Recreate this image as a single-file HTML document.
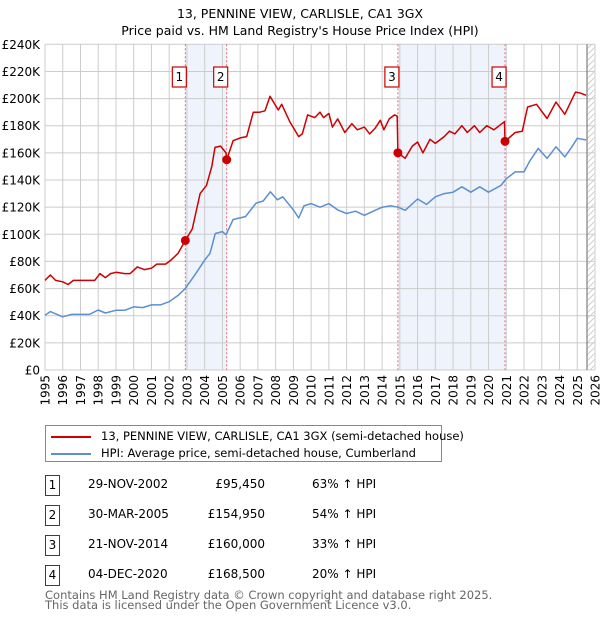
<!DOCTYPE html>
<html><head><meta charset="utf-8"><style>
body{margin:0;background:#fff;font-family:"DejaVu Sans","Liberation Sans",sans-serif;}
#wrap{position:relative;width:600px;height:620px;overflow:hidden}
.row{position:absolute;font-size:12px;color:#000}
.box{position:absolute;border:1.3px solid #c00;width:13px;height:19px;text-align:center;font-size:12px;line-height:18px}
</style></head><body><div id="wrap">
<svg id="chart" width="600" height="420" style="position:absolute;left:0;top:0"></svg>
<div style="position:absolute;left:45px;top:425px;width:395px;height:35px;border:1px solid #888;font-size:11.5px">
 <div style="position:absolute;left:5px;top:3px;white-space:nowrap"><span style="display:inline-block;width:40px;height:2px;background:#cc0000;vertical-align:middle;margin-right:10px"></span>13, PENNINE VIEW, CARLISLE, CA1 3GX (semi-detached house)</div>
 <div style="position:absolute;left:5px;top:20px;white-space:nowrap"><span style="display:inline-block;width:40px;height:2px;background:#5b8fd0;vertical-align:middle;margin-right:10px"></span>HPI: Average price, semi-detached house, Cumberland</div>
</div>
<div id="table"></div>
<div style="position:absolute;left:45px;top:590px;font-size:11.5px;color:#666;line-height:10px">Contains HM Land Registry data © Crown copyright and database right 2025.<br>This data is licensed under the Open Government Licence v3.0.</div>
</div>
<script>
const yTicks=[0,20,40,60,80,100,120,140,160,180,200,220,240];
const xYears=[1995,1996,1997,1998,1999,2000,2001,2002,2003,2004,2005,2006,2007,2008,2009,2010,2011,2012,2013,2014,2015,2016,2017,2018,2019,2020,2021,2022,2023,2024,2025,2026];
const saleDates=[2002.91,2005.24,2014.89,2020.93];
const salePrices=[95.45,154.95,160,168.5];
const saleLabels=["1","2","3","4"];
const saleDateText=["29-NOV-2002","30-MAR-2005","21-NOV-2014","04-DEC-2020"];
const salePriceText=["£95,450","£154,950","£160,000","£168,500"];
const saleHpiText=["63% ↑ HPI","54% ↑ HPI","33% ↑ HPI","20% ↑ HPI"];
const redT=[1995,1995.3,1995.6,1996,1996.3,1996.6,1997,1997.5,1997.8,1998.1,1998.4,1998.7,1999,1999.5,1999.8,2000.2,2000.6,2001,2001.3,2001.8,2002.1,2002.5,2002.91,2003.3,2003.74,2004.1,2004.4,2004.58,2004.9,2005.2,2005.24,2005.6,2006.0,2006.37,2006.74,2007.1,2007.4,2007.68,2008.15,2008.34,2008.8,2009.3,2009.5,2009.8,2010.2,2010.5,2010.7,2011,2011.2,2011.5,2011.9,2012.3,2012.6,2013,2013.3,2013.6,2013.9,2014.1,2014.4,2014.7,2014.85,2014.89,2015.3,2015.7,2016,2016.3,2016.7,2017,2017.5,2017.8,2018.1,2018.5,2018.8,2019.2,2019.5,2019.9,2020.3,2020.6,2020.9,2020.93,2021.5,2021.9,2022.2,2022.7,2023.3,2023.8,2024.3,2024.9,2025.2,2025.5];
const redV=[66,70,66,65,63,66,66,66,66,71,68,71,72,71,71,76,74,75,78,78,81,86,95.45,104,130,136,150,164,165,160,154.95,169,171,172,190,190,191,201.7,191.6,195.8,183,172,174,188,186,190,186,189,179,185,175,181.5,177,179,174,178,184,177,185,188,187,160,156,165,168,160,170,167,172,176,174,180,175,180,175,180,177,180,183,168.5,175,176,193.8,195.8,185.3,197.5,188.4,204.8,204,202.4];
const blueT=[1995,1995.3,1996,1996.5,1997,1997.5,1998,1998.4,1999,1999.5,2000,2000.5,2001,2001.5,2002,2002.5,2002.9,2003.5,2004,2004.3,2004.6,2005,2005.2,2005.6,2006.3,2006.9,2007.3,2007.7,2008.1,2008.4,2009,2009.3,2009.6,2010,2010.5,2011,2011.5,2012,2012.5,2013,2013.5,2014,2014.5,2014.9,2015.3,2016,2016.5,2017,2017.5,2018,2018.5,2019,2019.5,2020,2020.7,2021,2021.5,2022,2022.3,2022.8,2023.3,2023.8,2024.3,2024.7,2025,2025.5];
const blueV=[40.4,43,39.2,41,41,41,44.2,42,44,44,46.6,46,48,48,50.3,55,60,71,81,86,100.6,102,99.6,110.9,113,123,124.5,131.3,125.4,127.6,118,112,121,122.6,120,122.6,118,115.3,117,114,117,120,121,120,117.7,126,122,127.6,130,131,135,131,135,131,136,141,146,146,153.5,163.3,155.9,164.5,157,164.5,170.7,169.5];
const X0=45,X1=595,Y0=370,Y1=44.3;
const xs=t=>X0+(t-1995)/31*(X1-X0);
const ys=v=>Y0-v/240*(Y0-Y1);
const svg=document.getElementById('chart');const NS='http://www.w3.org/2000/svg';
function mk(tag,attrs,parent){const e=document.createElementNS(NS,tag);for(const k in attrs)e.setAttribute(k,attrs[k]);(parent||svg).appendChild(e);return e;}
let t=mk('text',{x:300,y:18,'text-anchor':'middle','font-size':12.5,'font-family':'DejaVu Sans, sans-serif'});t.textContent='13, PENNINE VIEW, CARLISLE, CA1 3GX';


t=mk('text',{x:300,y:35,'text-anchor':'middle','font-size':12.5,'font-family':'DejaVu Sans, sans-serif'});t.textContent="Price paid vs. HM Land Registry's House Price Index (HPI)";


for(let i=0;i<4;i+=2){const r=mk('rect',{x:xs(saleDates[i]),y:Y1,width:xs(saleDates[i+1])-xs(saleDates[i]),height:Y0-Y1,fill:'#eef3fc'});

}
const defs=mk('defs',{});const p=mk('pattern',{id:'h',width:6,height:6,patternUnits:'userSpaceOnUse'},defs);mk('path',{d:'M0,6 L6,0',stroke:'#ccc','stroke-width':1},p);
const hr=mk('rect',{x:xs(2025.55),y:Y1,width:X1-xs(2025.55),height:Y0-Y1,fill:'url(#h)'});


yTicks.forEach(v=>{const l=mk('line',{x1:X0,x2:X1,y1:ys(v),y2:ys(v),stroke:'#ccc','stroke-width':1});


const tx=mk('text',{x:40,y:ys(v)+4.5,'text-anchor':'end','font-size':12,'font-family':'DejaVu Sans, sans-serif'});tx.textContent=v===0?'£0':'£'+v+'K';

});
xYears.forEach(y=>{const l=mk('line',{x1:xs(y),x2:xs(y),y1:Y1,y2:Y0,stroke:'#ccc','stroke-width':1});


const tx=mk('text',{x:0,y:0,'text-anchor':'end','font-size':12,'font-family':'DejaVu Sans, sans-serif',transform:`translate(${xs(y)+4.5},${Y0+5}) rotate(-90)`});tx.textContent=y;

});
const vl=mk('line',{x1:xs(2025.55),x2:xs(2025.55),y1:Y1,y2:Y0,stroke:'#666','stroke-width':1});


saleDates.forEach((d,i)=>{const l=mk('line',{x1:xs(d),x2:xs(d),y1:Y1,y2:Y0,stroke:'#e66','stroke-width':1,'stroke-dasharray':'2,2'});


const g=mk('g',{});


mk('rect',{x:xs(d)-13,y:67,width:14,height:20,fill:'#fff',stroke:'#c00','stroke-width':1.2},g);
const tx=mk('text',{x:xs(d)-6,y:81,'text-anchor':'middle','font-size':12,'font-family':'DejaVu Sans, sans-serif'},g);tx.textContent=saleLabels[i];});
function line(T,V,c,name){const d=T.map((tt,i)=>(i?'L':'M')+xs(tt).toFixed(1)+','+ys(V[i]).toFixed(1)).join(' ');const e=mk('path',{d,fill:'none',stroke:c,'stroke-width':1.5,'stroke-linejoin':'round'});

}
line(blueT,blueV,'#5b8fd0','hpi-line');
line(redT,redV,'#cc0000','property-price-line');
saleDates.forEach((d,i)=>{const c=mk('circle',{cx:xs(d),cy:ys(salePrices[i]),r:4.5,fill:'#cc0000'});

});
const tb=document.getElementById('table');
saleDates.forEach((d,i)=>{const top=484+i*30;
const b=document.createElement('div');b.className='box';b.style.left='45px';b.style.top=(top-9)+'px';b.textContent=saleLabels[i];

tb.appendChild(b);
[[88,saleDateText[i],'left'],[0,salePriceText[i],'right'],[312,saleHpiText[i],'left']].forEach(([x,s,al],k)=>{const e=document.createElement('div');e.className='row';e.style.top=(top-7)+'px';
if(al==='right'){e.style.left='165px';e.style.width='100px';e.style.textAlign='right';}else e.style.left=x+'px';
e.textContent=s;

tb.appendChild(e);});});
</script></body></html>
